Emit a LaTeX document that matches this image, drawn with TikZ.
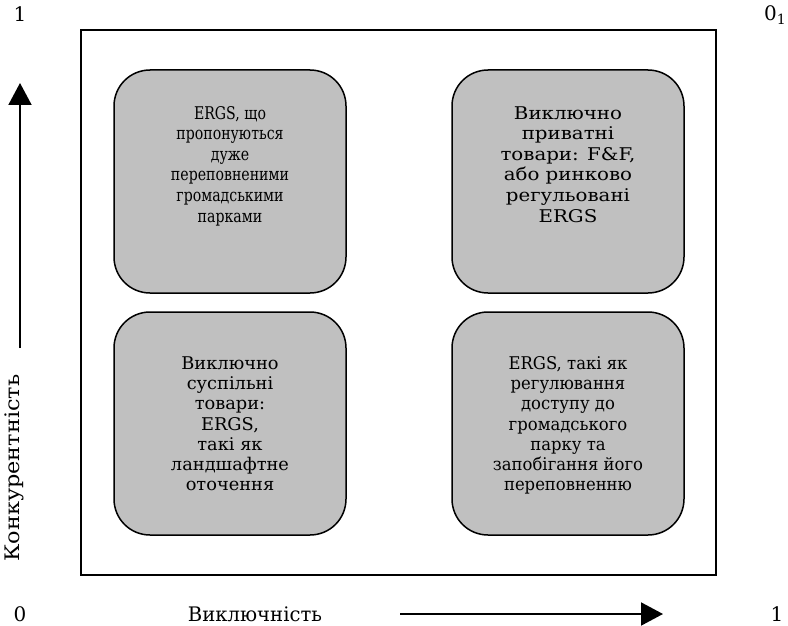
\documentclass[tikz,border=0pt]{standalone}
\usepackage{fontspec}
\usepackage{graphicx}
\setmainfont{DejaVu Serif}
\usetikzlibrary{arrows.meta}
% a centred block of lines at a given size, stretched sideways to a given width
\newcommand{\qlines}[4]{\resizebox{#1}{\height}{\fontsize{#2}{#3}\selectfont
  \begin{tabular}{@{}c@{}}#4\end{tabular}}}
\newcommand{\wideword}[2]{\resizebox{#1}{\height}{#2}}
\begin{document}
\begin{tikzpicture}[x=1pt,y=-1pt,
  quad/.style={draw=black,line width=1.5pt,fill=boxgray,rounded corners=36pt,
    minimum width=232pt,minimum height=223pt,inner sep=0pt},
  qtext/.style={inner sep=0pt},
  lbl/.style={font=\fontsize{20}{24}\selectfont,inner sep=0pt},
  axis/.style={line width=2pt,-{Triangle[length=22pt,width=23pt]}}]
\definecolor{boxgray}{HTML}{C0C0C0}
\useasboundingbox (0,0) rectangle (788,626);
% outer frame
\node[draw,line width=1.5pt,minimum width=635pt,minimum height=545pt,inner sep=0pt]
  (frame) at (398.5,302.5) {};
% four quadrants
\node[quad] (tl) at (230,181.5) {};
\node[quad] (tr) at (568,181.5) {};
\node[quad] (bl) at (230,423.5) {};
\node[quad] (br) at (568,423.5) {};
\node[qtext] (tlt) at (230,166.5)
  {\qlines{118pt}{17.5}{20.6}{ERGS, що\\пропонуються\\дуже\\переповненими\\громадськими\\парками}};
\node[qtext] (trt) at (568,166.5)
  {\qlines{135pt}{17.5}{20.6}{Виключно\\приватні\\товари: F\&F,\\або ринково\\регульовані\\ERGS}};
\node[qtext] (blt) at (230,426)
  {\qlines{118pt}{17.5}{20.3}{Виключно\\суспільні\\товари:\\ERGS,\\такі як\\ландшафтне\\оточення}};
\node[qtext] (brt) at (568,426)
  {\qlines{150pt}{17.5}{20.3}{ERGS, такі як\\регулювання\\доступу до\\громадського\\парку та\\запобігання його\\переповненню}};
% axis labels
\node[lbl] (one-top) at (20,14) {1};
\node[lbl,anchor=west] (zero-one) at (764,15) {0\textsubscript{1}};
\node[lbl] (zero) at (20,614) {0};
\node[lbl] (one-right) at (777,614) {1};
\node[lbl] (xlabel) at (255,614) {\wideword{134pt}{Виключність}};
\node[lbl,rotate=90] (ylabel) at (14,468) {\wideword{187pt}{Конкурентність}};
% axis arrows
\coordinate (ys) at (20,348);
\coordinate (ye) at (20,83);
\coordinate (xs) at (400,614);
\coordinate (xe) at (663,614);
\draw[axis] (ys) -- (ye);
\draw[axis] (xs) -- (xe);
\end{tikzpicture}
\end{document}
